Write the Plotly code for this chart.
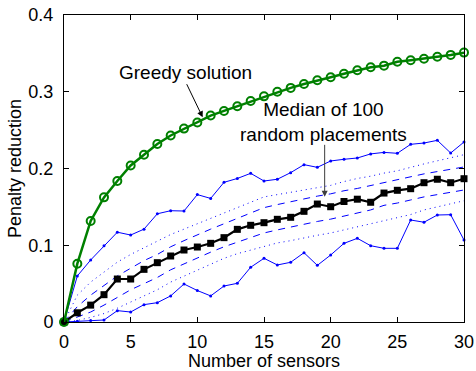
import plotly.graph_objects as go

x = list(range(0, 31))

greedy = [0, 0.076, 0.1316, 0.1624, 0.1837, 0.204, 0.218, 0.232, 0.243, 0.252,
          0.260, 0.269, 0.275, 0.281, 0.288, 0.294, 0.300, 0.305, 0.310, 0.315,
          0.319, 0.3235, 0.328, 0.332, 0.334, 0.339, 0.341, 0.343, 0.3457, 0.348, 0.351]

median = [0, 0.012, 0.022, 0.0356, 0.056, 0.056, 0.0686, 0.0773, 0.086, 0.0938,
          0.0977, 0.1025, 0.1099, 0.1207, 0.126, 0.1294, 0.1338, 0.1364, 0.1442, 0.1537,
          0.1502, 0.157, 0.160, 0.156, 0.168, 0.1716, 0.1737, 0.1815, 0.186, 0.1815, 0.1867]

max_vals = [0, 0.060, 0.0808, 0.0994, 0.117, 0.1133, 0.121, 0.141, 0.145, 0.1446,
            0.166, 0.161, 0.182, 0.187, 0.1937, 0.1837, 0.186, 0.1946, 0.205, 0.2015,
            0.2098, 0.212, 0.2137, 0.219, 0.221, 0.2198, 0.2315, 0.2332, 0.2367, 0.2202, 0.2345]

min_vals = [0, 0.001, 0.002, 0.0026, 0.0148, 0.013, 0.0226, 0.0252, 0.034, 0.0495,
            0.041, 0.034, 0.0469, 0.0504, 0.0713, 0.083, 0.0743, 0.0778, 0.0903, 0.0738,
            0.0873, 0.1025, 0.109, 0.0994, 0.096, 0.096, 0.1329, 0.130, 0.1394, 0.1398, 0.1068]

upper_dotted = [0, 0.035, 0.052, 0.065, 0.078, 0.088, 0.097, 0.106, 0.114, 0.121,
                0.128, 0.135, 0.142, 0.149, 0.156, 0.163, 0.166, 0.169, 0.172, 0.175,
                0.178, 0.183, 0.187, 0.190, 0.194, 0.197, 0.202, 0.206, 0.210, 0.214, 0.218]

upper_dashed = [0, 0.020, 0.035, 0.047, 0.060, 0.070, 0.080, 0.088, 0.098, 0.106,
                0.114, 0.121, 0.128, 0.135, 0.142, 0.149, 0.153, 0.157, 0.160, 0.164,
                0.167, 0.171, 0.174, 0.178, 0.182, 0.185, 0.189, 0.193, 0.196, 0.199, 0.202]

lower_dashed = [0, 0.006, 0.013, 0.022, 0.032, 0.042, 0.050, 0.058, 0.068, 0.076,
                0.084, 0.091, 0.098, 0.104, 0.110, 0.116, 0.120, 0.124, 0.128, 0.131,
                0.134, 0.138, 0.142, 0.146, 0.152, 0.155, 0.159, 0.163, 0.166, 0.169, 0.172]

lower_dotted = [0, 0.002, 0.006, 0.011, 0.018, 0.026, 0.034, 0.042, 0.052, 0.060,
                0.068, 0.076, 0.083, 0.089, 0.094, 0.099, 0.103, 0.106, 0.110, 0.113,
                0.116, 0.120, 0.124, 0.128, 0.132, 0.136, 0.140, 0.146, 0.150, 0.154, 0.158]

x_ticks = [0, 5, 10, 15, 20, 25, 30]
y_ticks = [0, 0.1, 0.2, 0.3, 0.4]
y_tick_labels = ["0", "0.1", "0.2", "0.3", "0.4"]

BLUE = "rgb(0,0,255)"
GREEN = "rgb(0,128,0)"
FONT = "Liberation Sans, Arial, sans-serif"

fig = go.Figure()

for ys in (upper_dotted, lower_dotted):
    fig.add_trace(go.Scatter(x=x, y=ys, mode="lines",
                             line=dict(color=BLUE, width=1, dash="1px,4px"),
                             cliponaxis=False, showlegend=False))
for ys in (upper_dashed, lower_dashed):
    fig.add_trace(go.Scatter(x=x, y=ys, mode="lines",
                             line=dict(color=BLUE, width=1, dash="7px,6px"),
                             cliponaxis=False, showlegend=False))
for ys in (max_vals, min_vals):
    fig.add_trace(go.Scatter(x=x, y=ys, mode="lines+markers",
                             line=dict(color=BLUE, width=1),
                             marker=dict(color=BLUE, size=3),
                             cliponaxis=False, showlegend=False))

fig.add_trace(go.Scatter(x=x, y=median, mode="lines+markers",
                         line=dict(color="black", width=2.2),
                         marker=dict(symbol="square", color="black", size=7),
                         cliponaxis=False, showlegend=False))

fig.add_trace(go.Scatter(x=x, y=greedy, mode="lines+markers",
                         line=dict(color=GREEN, width=2.5),
                         marker=dict(symbol="circle-open", color=GREEN, size=8,
                                     line=dict(color=GREEN, width=2)),
                         cliponaxis=False, showlegend=False))

fig.add_annotation(x=10.4, y=0.2667, ax=9.15, ay=0.3118, xref="x", yref="y",
                   axref="x", ayref="y", text="", showarrow=True,
                   arrowhead=2, arrowsize=1.2, arrowwidth=1, arrowcolor="black")
fig.add_annotation(x=9.08, y=0.3257, xref="x", yref="y", text="Greedy solution",
                   showarrow=False, font=dict(family=FONT, size=19, color="black"))

fig.add_annotation(x=19.55, y=0.1633, ax=19.55, ay=0.2328, xref="x", yref="y",
                   axref="x", ayref="y", text="", showarrow=True,
                   arrowhead=2, arrowsize=1.2, arrowwidth=1, arrowcolor="rgb(60,60,60)")
fig.add_annotation(x=19.46, y=0.2612, xref="x", yref="y",
                   text="Median of 100<br>random placements",
                   showarrow=False, align="center",
                   font=dict(family=FONT, size=19, color="black"))

axis_common = dict(showgrid=False, zeroline=False, showline=True, linecolor="black",
                   linewidth=1, mirror="ticks", ticks="inside", ticklen=5,
                   tickcolor="black", automargin=False,
                   tickfont=dict(family=FONT, size=18, color="black"))

fig.update_xaxes(range=[0, 30], tickvals=x_ticks, ticktext=[str(v) for v in x_ticks],
                 ticklabelstandoff=3,
                 title=dict(text="Number of sensors", standoff=0,
                            font=dict(family=FONT, size=18, color="black")),
                 **axis_common)
fig.update_yaxes(range=[0, 0.4], tickvals=y_ticks, ticktext=y_tick_labels,
                 ticklabelstandoff=6,
                 title=dict(text="Penalty reduction", standoff=2,
                            font=dict(family=FONT, size=18, color="black")),
                 **axis_common)

fig.update_layout(width=476, height=371, plot_bgcolor="white", paper_bgcolor="white",
                  margin=dict(l=64, r=12, t=15, b=49), showlegend=False)

fig.write_html("out.html")
